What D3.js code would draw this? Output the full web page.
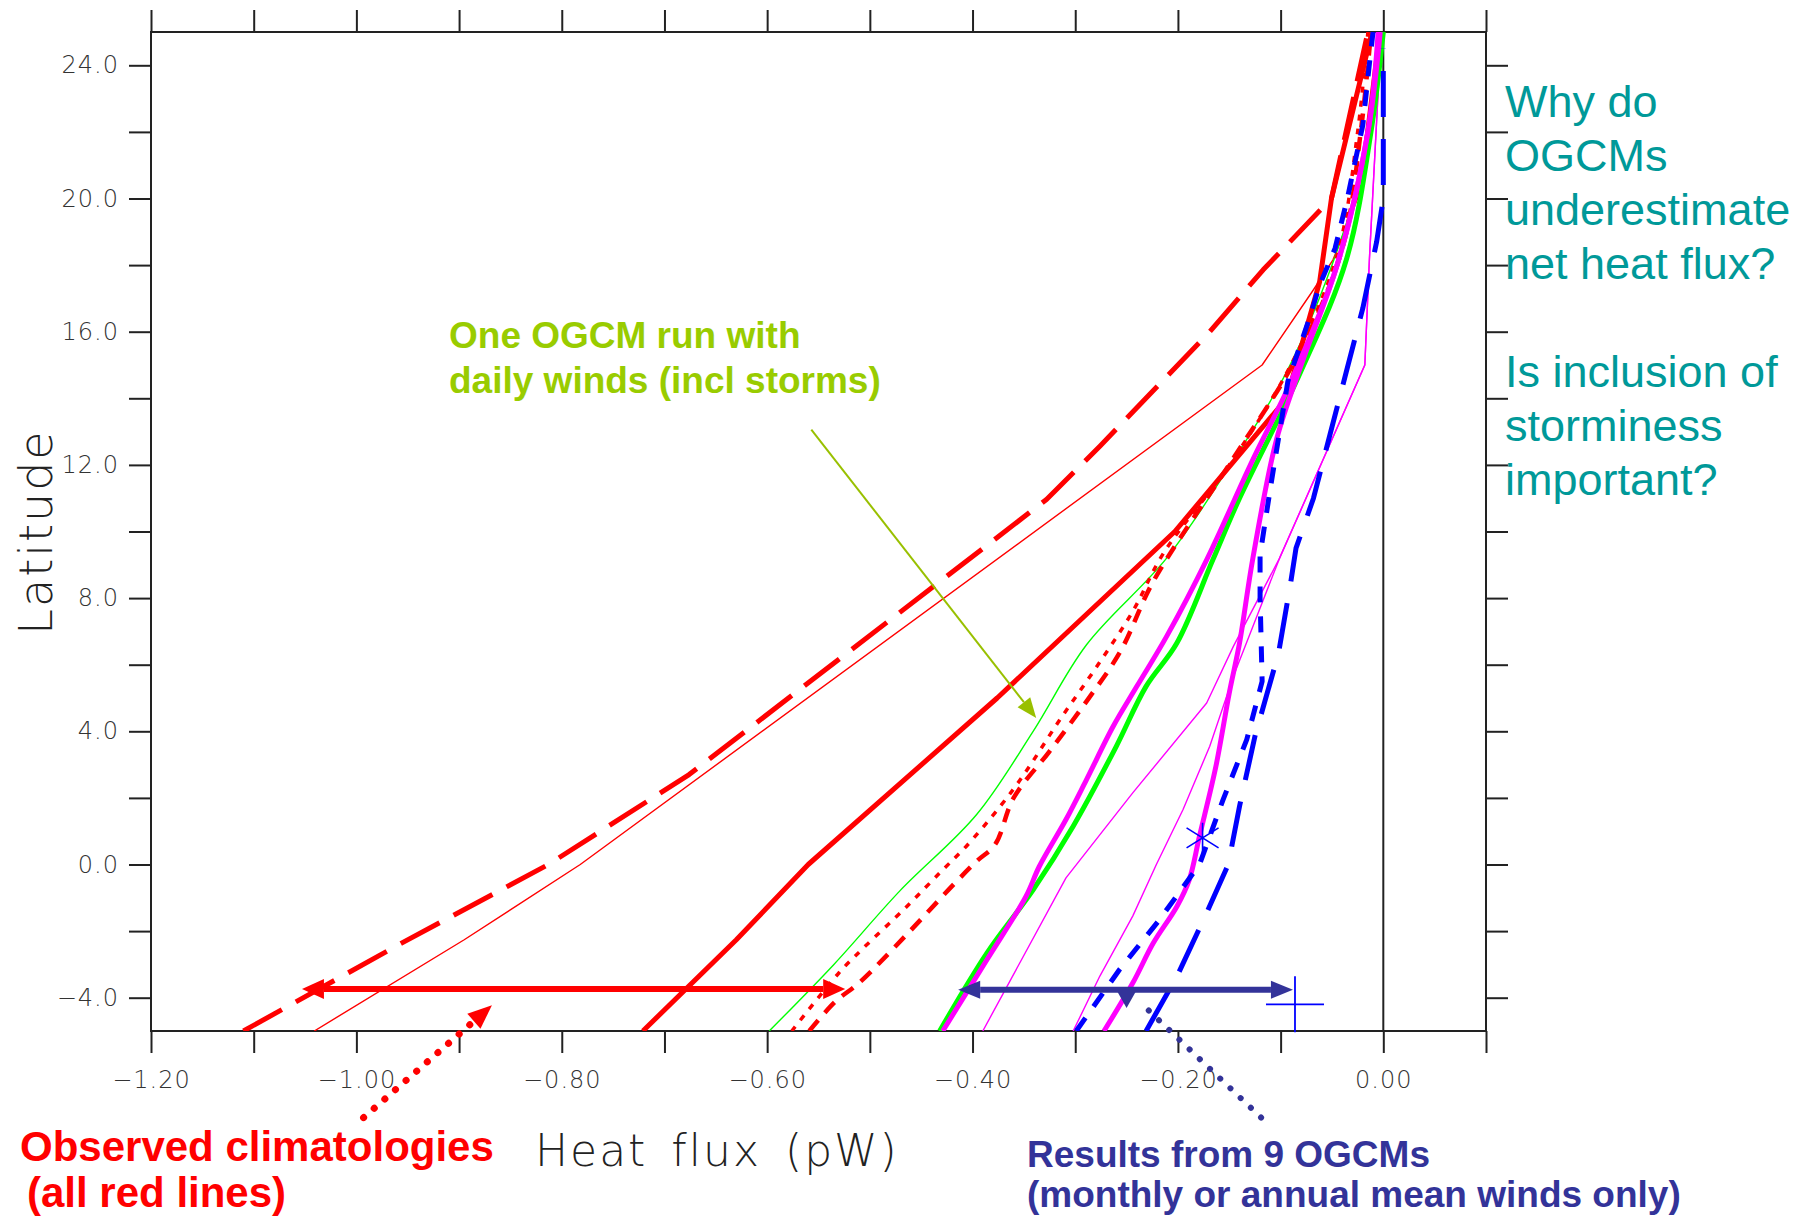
<!DOCTYPE html>
<html>
<head>
<meta charset="utf-8">
<script src="https://cdn.jsdelivr.net/npm/d3@7"></script>
<style>
  html, body { margin: 0; padding: 0; background: #fff; }
  svg { display: block; }
</style>
</head>
<body>
<div id="chart"></div>
<script>
// Northward heat flux (pW) vs latitude. Each point is [flux, latitude].

// observed climatologies (red)
const obsSolid = [[-0.721, -5], [-0.63, -2.26], [-0.56, 0], [-0.376, 5], [-0.203, 10], [-0.094, 14], [-0.062, 17.5], [-0.0505, 20], [-0.011, 25]]
const obsLongDash = [[-1.11, -5], [-0.956, -2.36], [-0.813, 0], [-0.676, 2.7], [-0.328, 10.96], [-0.276, 12.56], [-0.169, 16], [-0.117, 17.86], [-0.0505, 20], [-0.015, 25]]
const obsThin = [[-1.041, -5], [-0.895, -2.26], [-0.782, 0], [-0.118, 15], [-0.068, 17.26], [-0.049, 18.16], [-0.025, 20], [-0.005, 25]]
const obsDashed = [[-0.559, -5], [-0.534, -4.13], [-0.51, -3.54], [-0.464, -2.1], [-0.42, -0.65], [-0.396, 0.1], [-0.378, 0.6], [-0.36, 2], [-0.325, 3.4], [-0.289, 4.9], [-0.256, 6.4], [-0.224, 8.5], [-0.146, 12.2], [-0.085, 15.2], [-0.04, 18.5], [-0.022, 22], [-0.012, 25]]
const obsDotted = [[-0.576, -5], [-0.53, -3.25], [-0.508, -2.56], [-0.464, -1.26], [-0.429, -0.16], [-0.406, 0.55], [-0.373, 1.75], [-0.35, 2.7], [-0.316, 4.3], [-0.28, 5.9], [-0.244, 7.6], [-0.214, 9.35], [-0.15, 12], [-0.09, 15], [-0.045, 18.3], [-0.025, 22], [-0.015, 25]]

// one OGCM run with daily winds (green)
const dailyThick = [[-0.432, -5], [-0.386, -2.66], [-0.341, -0.76], [-0.302, 1.15], [-0.26, 3.55], [-0.231, 5.35], [-0.201, 6.65], [-0.166, 9.15], [-0.14, 11], [-0.081, 14.76], [-0.036, 18.16], [-0.012, 22], [0, 25]]
const dailyThin = [[-0.598, -5], [-0.535, -3], [-0.471, -0.8], [-0.396, 1.5], [-0.341, 4], [-0.289, 6.6], [-0.211, 9.2], [-0.149, 12], [-0.094, 14.8], [-0.05, 18], [-0.02, 21], [0, 25]]

// OGCMs with monthly / annual mean winds (magenta, blue)
const ogcmMagA = [[-0.429, -5], [-0.386, -2.86], [-0.348, -0.96], [-0.335, -0.06], [-0.309, 1.35], [-0.289, 2.55], [-0.263, 4.15], [-0.24, 5.35], [-0.211, 6.85], [-0.172, 9.15], [-0.127, 12.16], [-0.09, 14.5], [-0.045, 18], [-0.015, 22], [-0.003, 25]]
const ogcmMagB = [[-0.272, -5], [-0.244, -3.56], [-0.224, -2.36], [-0.201, -1.26], [-0.189, -0.46], [-0.179, 0.85], [-0.163, 2.95], [-0.15, 5.15], [-0.14, 6.65], [-0.127, 9.2], [-0.104, 12.76], [-0.08, 15], [-0.045, 18], [-0.015, 22], [-0.005, 25]]
const ogcmMagThinA = [[-0.39, -5], [-0.309, -0.4], [-0.244, 2.15], [-0.172, 4.85], [-0.146, 6.55], [-0.101, 9.2], [-0.018, 15], [-0.0135, 18.2], [-0.003, 24.4], [0, 25]]
const ogcmMagThinB = [[-0.302, -5], [-0.276, -3.35], [-0.244, -1.55], [-0.221, 0], [-0.195, 1.65], [-0.169, 3.55], [-0.146, 5.65], [-0.127, 7.15], [-0.101, 9.2], [-0.018, 15], [-0.0135, 18.2], [-0.003, 24.4], [0, 25]]
const ogcmBlueA = [[-0.299, -5], [-0.257, -3.16], [-0.218, -1.66], [-0.179, 0], [-0.156, 1.95], [-0.133, 3.75], [-0.118, 5.5], [-0.12, 8], [-0.12, 9.3], [-0.11, 11.3], [-0.093, 14.5], [-0.072, 16.4], [-0.062, 17.4], [-0.047, 18.5], [-0.035, 20], [-0.02, 22.2], [-0.013, 24.2], [-0.01, 25]]
const ogcmBlueB = [[-0.231, -5], [-0.2, -3.3], [-0.172, -1.45], [-0.151, 0], [-0.14, 1.75], [-0.125, 3.85], [-0.102, 6.35], [-0.09, 8.5], [-0.085, 9.5], [-0.068, 11], [-0.052, 12.9], [-0.036, 14.8], [-0.02, 16.7], [-0.0065, 18.7], [0, 20], [0, 24.5]]

// single blue symbols
const starPoints = [[-0.176, 0.8]]
const plusPoints = [[-0.086, -4.2]]

// annotation arrows, in data units
const greenArrow = [[-0.557, 13.06], [-0.338, 4.4]]
const redSpan = [[-1.053, -3.74], [-0.524, -3.74]]
const navySpan = [[-0.414, -3.76], [-0.088, -3.76]]
const redPointer = [[-0.993, -7.6], [-0.868, -4.23]]
const bluePointer = [[-0.119, -7.6], [-0.233, -4.25]]
const bluePointerHead = [[-0.25, -3.86], [-0.25, -4.31]]

// ticks
const xTickValues = [-1.2, -1.1, -1.0, -0.9, -0.8, -0.7, -0.6, -0.5, -0.4, -0.3, -0.2, -0.1, 0.0, 0.1]
const xTickLabels = [-1.2, -1.0, -0.8, -0.6, -0.4, -0.2, 0.0]
const yTickValues = [-4, -2, 0, 2, 4, 6, 8, 10, 12, 14, 16, 18, 20, 22, 24]
const yTickLabels = [-4, 0, 4, 8, 12, 16, 20, 24]

const questionLines = ['Why do', 'OGCMs', 'underestimate', 'net heat flux?', '', 'Is inclusion of', 'storminess', 'important?']

const W = 1811
const H = 1219
const RED = '#ff0000'
const GREEN = '#00ff00'
const MAGENTA = '#ff00ff'
const BLUE = '#0000ff'
const NAVY = '#333399'
const AXIS_FONT = '"DejaVu Sans", Verdana, sans-serif'
const NOTE_FONT = '"Liberation Sans", Arial, sans-serif'

const svg = d3.select('#chart')
  .append('svg')
  .attr('width', W)
  .attr('height', H)

svg.append('rect').attr('width', W).attr('height', H).attr('fill', '#fff')

const x = d3.scaleLinear().domain([-1.2, 0.1]).range([151, 1486])
const y = d3.scaleLinear().domain([-5, 25]).range([1031, 32])

const fmtX = d3.format('.2f')
const fmtY = d3.format('.1f')

const styleAxis = (sel) => {
  sel.select('.domain').remove()
  sel.selectAll('.tick line').attr('stroke', '#222').attr('stroke-width', 2)
  sel.selectAll('.tick text')
    .attr('fill', '#333')
    .style('font-family', AXIS_FONT)
    .style('font-weight', 200)
    .style('font-size', '24px')
    .style('letter-spacing', '1px')
}

// axes on all four sides, ticks pointing outwards
svg.append('g')
  .attr('transform', `translate(0,${y(-5)})`)
  .call(d3.axisBottom(x).tickValues(xTickValues).tickSize(22).tickPadding(18)
    .tickFormat(d => xTickLabels.includes(d) ? fmtX(d) : ''))
  .call(styleAxis)

svg.append('g')
  .attr('transform', `translate(0,${y(25)})`)
  .call(d3.axisTop(x).tickValues(xTickValues).tickSize(22).tickFormat(''))
  .call(styleAxis)

svg.append('g')
  .attr('transform', `translate(${x(-1.2)},0)`)
  .call(d3.axisLeft(y).tickValues(yTickValues).tickSize(22).tickPadding(10)
    .tickFormat(d => yTickLabels.includes(d) ? fmtY(d) : ''))
  .call(styleAxis)

svg.append('g')
  .attr('transform', `translate(${x(0.1)},0)`)
  .call(d3.axisRight(y).tickValues(yTickValues).tickSize(22).tickFormat(''))
  .call(styleAxis)

// frame and zero line
svg.append('rect')
  .attr('x', x(-1.2)).attr('y', y(25))
  .attr('width', x(0.1) - x(-1.2)).attr('height', y(-5) - y(25))
  .attr('fill', 'none').attr('stroke', '#222').attr('stroke-width', 2)

svg.append('line')
  .attr('x1', x(0)).attr('x2', x(0))
  .attr('y1', y(-5)).attr('y2', y(25))
  .attr('stroke', '#222').attr('stroke-width', 2)

// axis titles
svg.append('text')
  .attr('x', 535).attr('y', 1166)
  .text('Heat flux (pW)')
  .attr('fill', '#222')
  .style('font-family', AXIS_FONT).style('font-weight', 200)
  .style('font-size', '44px').style('letter-spacing', '2px').style('word-spacing', '8px')

svg.append('text')
  .attr('transform', 'translate(52,532) rotate(-90)')
  .attr('text-anchor', 'middle')
  .text('Latitude')
  .attr('fill', '#222')
  .style('font-family', AXIS_FONT).style('font-weight', 200)
  .style('font-size', '46px').style('letter-spacing', '2px')

// curves
svg.append('clipPath').attr('id', 'plot-clip')
  .append('rect')
  .attr('x', x(-1.2)).attr('y', y(25))
  .attr('width', x(0.1) - x(-1.2)).attr('height', y(-5) - y(25))

const series = [
  { data: obsThin, color: RED, width: 1.4 },
  { data: dailyThin, color: GREEN, width: 1.4, smooth: true },
  { data: ogcmMagThinA, color: MAGENTA, width: 1.4 },
  { data: ogcmMagThinB, color: MAGENTA, width: 1.4 },
  { data: obsLongDash, color: RED, width: 5, dash: '44,16' },
  { data: obsSolid, color: RED, width: 5 },
  { data: obsDotted, color: RED, width: 3.5, dash: '6,8', smooth: true },
  { data: obsDashed, color: RED, width: 4.5, dash: '14,10', smooth: true },
  { data: dailyThick, color: GREEN, width: 5, smooth: true },
  { data: ogcmMagA, color: MAGENTA, width: 5, smooth: true },
  { data: ogcmMagB, color: MAGENTA, width: 5, smooth: true },
  { data: ogcmBlueA, color: BLUE, width: 5, dash: '16,14' },
  { data: ogcmBlueB, color: BLUE, width: 5, dash: '46,22' }
]

const line = d3.line()
  .x(d => x(d[0]))
  .y(d => y(d[1]))
const smoothLine = d3.line()
  .x(d => x(d[0]))
  .y(d => y(d[1]))
  .curve(d3.curveCatmullRom.alpha(0.5))

svg.append('g')
  .attr('clip-path', 'url(#plot-clip)')
  .selectAll('path')
  .data(series)
  .enter()
  .append('path')
  .attr('fill', 'none')
  .attr('stroke', d => d.color)
  .attr('stroke-width', d => d.width)
  .attr('stroke-dasharray', d => d.dash || null)
  .attr('stroke-linejoin', 'round')
  .attr('d', d => (d.smooth ? smoothLine : line)(d.data))

// blue symbols
svg.append('g')
  .selectAll('path')
  .data(starPoints)
  .enter()
  .append('path')
  .attr('d', d => {
    const cx = x(d[0]), cy = y(d[1])
    return `M${cx},${cy - 15}V${cy + 17}M${cx - 16},${cy - 10}L${cx + 16},${cy + 10}M${cx - 16},${cy + 10}L${cx + 16},${cy - 10}`
  })
  .attr('stroke', BLUE).attr('stroke-width', 1.6).attr('fill', 'none')

svg.append('g')
  .selectAll('path')
  .data(plusPoints)
  .enter()
  .append('path')
  .attr('d', d => {
    const cx = x(d[0]), cy = y(d[1])
    return `M${cx - 29},${cy}H${cx + 29}M${cx},${cy - 28}V${cy + 28}`
  })
  .attr('stroke', BLUE).attr('stroke-width', 1.8).attr('fill', 'none')

// arrows
function headPoints(x1, y1, x2, y2, len, half) {
  const a = Math.atan2(y2 - y1, x2 - x1)
  const bx = x2 - len * Math.cos(a)
  const by = y2 - len * Math.sin(a)
  return {
    base: [bx, by],
    pts: [[x2, y2], [bx + half * Math.sin(a), by - half * Math.cos(a)], [bx - half * Math.sin(a), by + half * Math.cos(a)]]
  }
}

const notes = svg.append('g')

function arrow(pair, color, width, len, half, opts = {}) {
  const [p0, p1] = pair.map(d => [x(d[0]), y(d[1])])
  const h1 = headPoints(p0[0], p0[1], p1[0], p1[1], len, half)
  let start = p0
  if (opts.both) {
    const h0 = headPoints(p1[0], p1[1], p0[0], p0[1], len, half)
    start = h0.base
    notes.append('polygon').attr('points', h0.pts.join(' ')).attr('fill', color)
  }
  const end = opts.noHead ? p1 : h1.base
  notes.append('line')
    .attr('x1', start[0]).attr('y1', start[1])
    .attr('x2', end[0]).attr('y2', end[1])
    .attr('stroke', color)
    .attr('stroke-width', width)
    .attr('stroke-linecap', opts.dotted ? 'round' : 'butt')
    .attr('stroke-dasharray', opts.dotted ? '0.1,14' : null)
  if (!opts.noHead) notes.append('polygon').attr('points', h1.pts.join(' ')).attr('fill', color)
}

function headOnly(pair, color, len, half) {
  const [p0, p1] = pair.map(d => [x(d[0]), y(d[1])])
  const h = headPoints(p0[0], p0[1], p1[0], p1[1], len, half)
  notes.append('polygon').attr('points', h.pts.join(' ')).attr('fill', color)
}

arrow(greenArrow, '#99c000', 2, 20, 8)
arrow(redSpan, RED, 6, 22, 10, { both: true })
arrow(navySpan, NAVY, 6, 22, 9, { both: true })
arrow(redPointer, RED, 7, 24, 10, { dotted: true })
arrow(bluePointer, NAVY, 6, 0, 0, { dotted: true, noHead: true })
headOnly(bluePointerHead, NAVY, 16, 9)

// annotation texts
const noteText = (tx, ty, str, color, size, weight) =>
  notes.append('text')
    .attr('x', tx).attr('y', ty)
    .text(str)
    .attr('fill', color)
    .style('font-family', NOTE_FONT)
    .style('font-weight', weight)
    .style('font-size', size + 'px')

noteText(449, 348, 'One OGCM run with', '#99cc00', 37, 700)
noteText(449, 393, 'daily winds (incl storms)', '#99cc00', 37, 700)

noteText(20, 1161, 'Observed climatologies', RED, 42, 700)
noteText(27, 1207, '(all red lines)', RED, 42, 700)

noteText(1027, 1167, 'Results from 9 OGCMs', NAVY, 37, 700)
noteText(1027, 1207, '(monthly or annual mean winds only)', NAVY, 37, 700)

questionLines.forEach((s, i) => {
  if (s) noteText(1505, 117 + i * 54, s, '#009999', 45, 400)
})
</script>
</body>
</html>
